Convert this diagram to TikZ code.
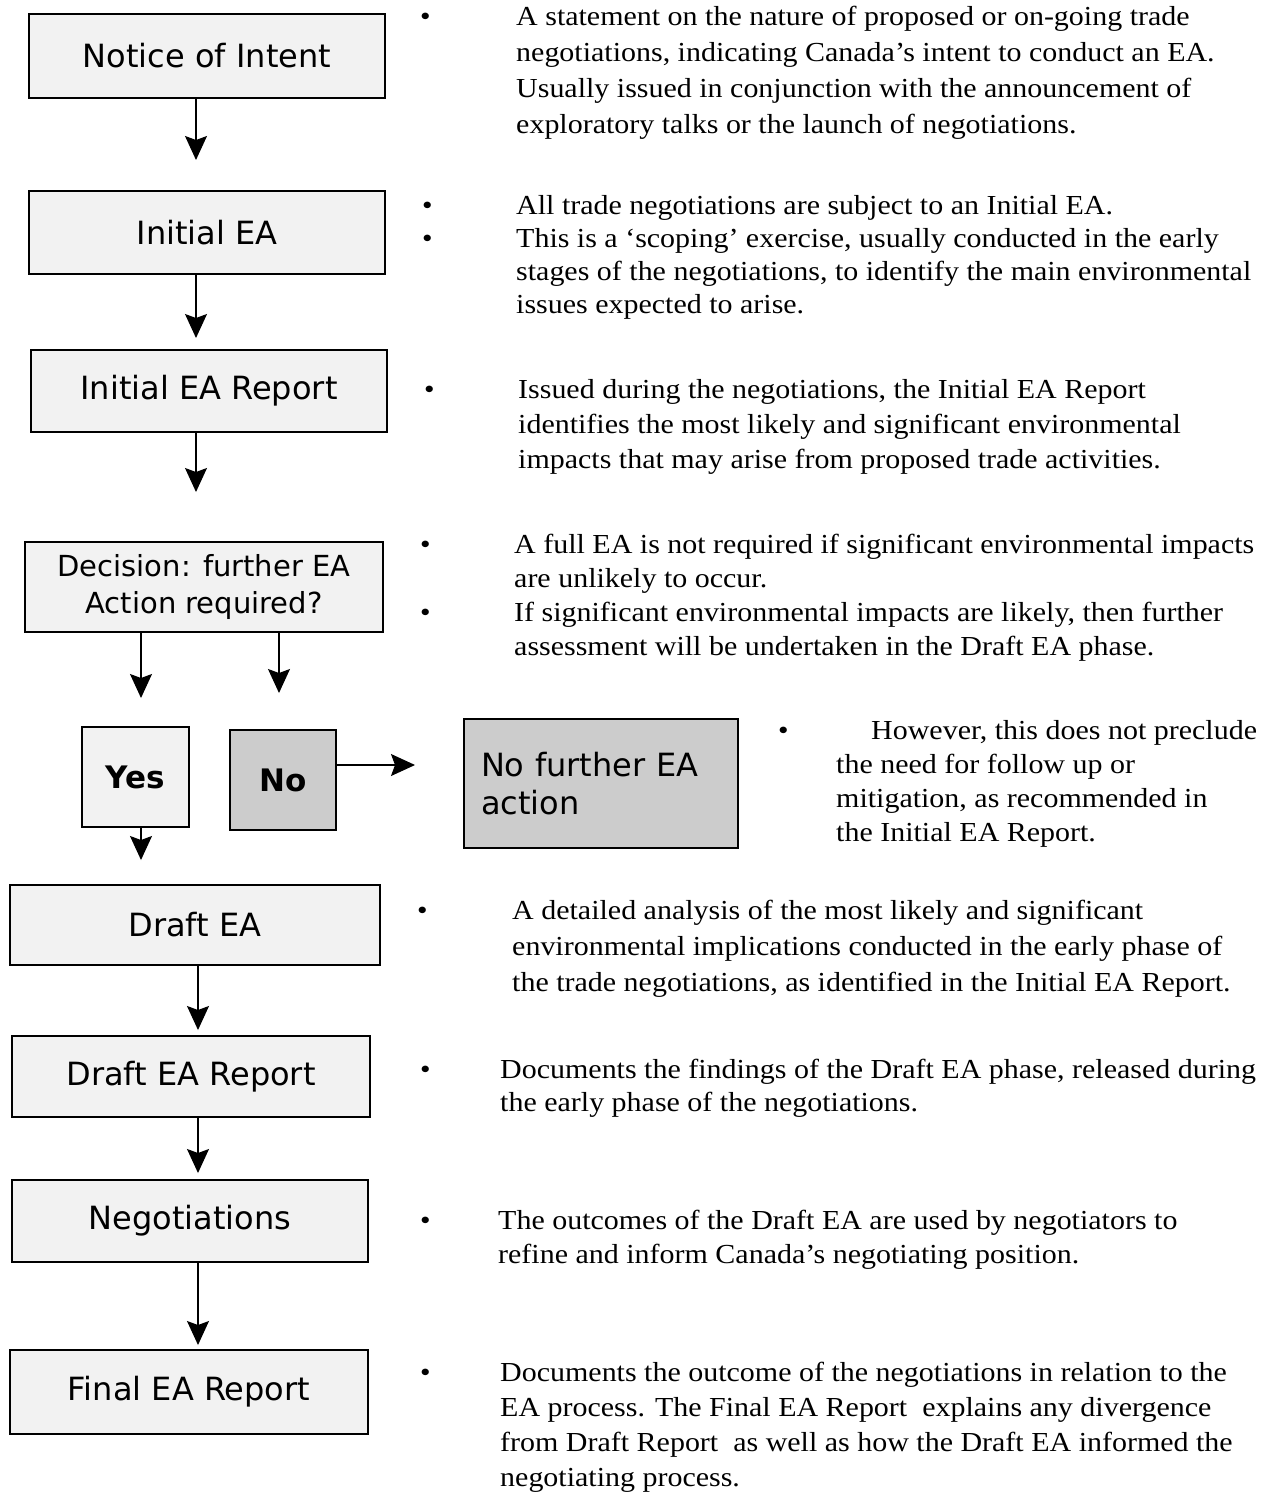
\documentclass[tikz,border=0pt]{standalone}
\usepackage{fontspec}
\setmainfont{Liberation Serif}[FakeStretch=1.09]
\newfontfamily\boxfont{DejaVu Sans}
\usetikzlibrary{arrows.meta}
\definecolor{boxgray}{HTML}{F2F2F2}
\definecolor{midgray}{HTML}{CCCCCC}
\begin{document}
\begin{tikzpicture}[x=1pt,y=-1pt,
  stepbox/.style={draw=black,line width=2.6pt,fill=boxgray,inner sep=0pt,
    font=\boxfont\fontsize{32}{38}\selectfont,align=center},
  flow/.style={line width=1.2pt,-{Stealth[length=24pt,width=22pt,inset=4pt]}},
  desc/.style={anchor=north west,inner sep=0pt,align=left},
  bul/.style={anchor=north west,inner sep=0pt,font=\fontsize{27.5}{34}\selectfont}
]
\useasboundingbox[fill=white] (0,0) rectangle (1283,1499);

% boxes
\node[stepbox,minimum width=356pt,minimum height=84pt] (notice) at (207,56) {Notice of Intent};
\node[stepbox,minimum width=356pt,minimum height=83pt] (initea) at (207,232.5) {Initial EA};
\node[stepbox,minimum width=356pt,minimum height=82pt] (iear) at (209,391) {Initial EA Report};
\node[stepbox,minimum width=358pt,minimum height=90pt,font=\boxfont\fontsize{29}{37}\selectfont] (decision) at (204,587) {Decision: further EA\\Action required?};
\node[stepbox,minimum width=107pt,minimum height=100pt,font=\boxfont\bfseries\fontsize{31}{37}\selectfont] (yes) at (135.5,777) {Yes};
\node[stepbox,fill=midgray,minimum width=106pt,minimum height=100pt,font=\boxfont\bfseries\fontsize{31}{37}\selectfont] (no) at (283,780) {No};
\node[stepbox,fill=midgray,minimum width=274pt,minimum height=129pt,align=left,text width=240pt] (nofurther) at (601,783.5) {No further EA\\action};
\node[stepbox,minimum width=370pt,minimum height=80pt] (draftea) at (195,925) {Draft EA};
\node[stepbox,minimum width=358pt,minimum height=81pt] (dear) at (191,1076.5) {Draft EA Report};
\node[stepbox,minimum width=356pt,minimum height=82pt] (nego) at (190,1221) {Negotiations};
\node[stepbox,minimum width=358pt,minimum height=84pt] (final) at (189,1392) {Final EA Report};

% arrow tips
\coordinate (t1) at (196,160);
\coordinate (t2) at (196,338);
\coordinate (t3) at (196,492);
\coordinate (t4) at (141,698);
\coordinate (t5) at (279,693);
\coordinate (t6) at (415,765);
\coordinate (t7) at (141,860);
\coordinate (t8) at (198,1030);
\coordinate (t9) at (198,1173);
\coordinate (t10) at (198,1345);

\draw[flow] (notice.south -| t1) -- (t1);
\draw[flow] (initea.south -| t2) -- (t2);
\draw[flow] (iear.south -| t3) -- (t3);
\draw[flow] (decision.south -| t4) -- (t4);
\draw[flow] (decision.south -| t5) -- (t5);
\draw[flow] (no.east |- t6) -- (t6);
\draw[flow] (yes.south -| t7) -- (t7);
\draw[flow] (draftea.south -| t8) -- (t8);
\draw[flow] (dear.south -| t9) -- (t9);
\draw[flow] (nego.south -| t10) -- (t10);

% bullets
\node[bul] (b1) at (420,6) {\vphantom{d}•};
\node[bul] (b2a) at (422,195) {\vphantom{d}•};
\node[bul] (b2b) at (422,228) {\vphantom{d}•};
\node[bul] (b3) at (424,379) {\vphantom{d}•};
\node[bul] (b4a) at (420,534) {\vphantom{d}•};
\node[bul] (b4b) at (420,602) {\vphantom{d}•};
\node[bul] (b5) at (778,720) {\vphantom{d}•};
\node[bul] (b6) at (417,900) {\vphantom{d}•};
\node[bul] (b7) at (420,1059) {\vphantom{d}•};
\node[bul] (b8) at (420,1210) {\vphantom{d}•};
\node[bul] (b9) at (420,1362) {\vphantom{d}•};

% descriptions
\node[desc,font=\fontsize{27.5}{36}\selectfont] (d1) at (516,6) {A statement on the nature of proposed or on-going trade\\negotiations, indicating Canada’s intent to conduct an EA.\\Usually issued in conjunction with the announcement of\\exploratory talks or the launch of negotiations.};
\node[desc,font=\fontsize{27.5}{33}\selectfont] (d2) at (516,195) {All trade negotiations are subject to an Initial EA.\\This is a ‘scoping’ exercise, usually conducted in the early\\stages of the negotiations, to identify the main environmental\\issues expected to arise.};
\node[desc,font=\fontsize{27.5}{35}\selectfont] (d3) at (518,379) {Issued during the negotiations, the Initial EA Report\\identifies the most likely and significant environmental\\impacts that may arise from proposed trade activities.};
\node[desc,font=\fontsize{27.5}{34}\selectfont] (d4) at (514,534) {A full EA is not required if significant environmental impacts\\are unlikely to occur.\\If significant environmental impacts are likely, then further\\assessment will be undertaken in the Draft EA phase.};
\node[desc,font=\fontsize{27.5}{34}\selectfont] (d5) at (836,720) {\hspace*{35pt}However, this does not preclude\\the need for follow up or\\mitigation, as recommended in\\the Initial EA Report.};
\node[desc,font=\fontsize{27.5}{36}\selectfont] (d6) at (512,900) {A detailed analysis of the most likely and significant\\environmental implications conducted in the early phase of\\the trade negotiations, as identified in the Initial EA Report.};
\node[desc,font=\fontsize{27.5}{33}\selectfont] (d7) at (500,1059) {Documents the findings of the Draft EA phase, released during\\the early phase of the negotiations.};
\node[desc,font=\fontsize{27.5}{34}\selectfont] (d8) at (498,1210) {The outcomes of the Draft EA are used by negotiators to\\refine and inform Canada’s negotiating position.};
\node[desc,font=\fontsize{27.5}{35}\selectfont] (d9) at (500,1362) {Documents the outcome of the negotiations in relation to the\\EA process. The Final EA Report\ \ explains any divergence\\from Draft Report\ \ as well as how the Draft EA informed the\\negotiating process.};
\end{tikzpicture}
\end{document}
